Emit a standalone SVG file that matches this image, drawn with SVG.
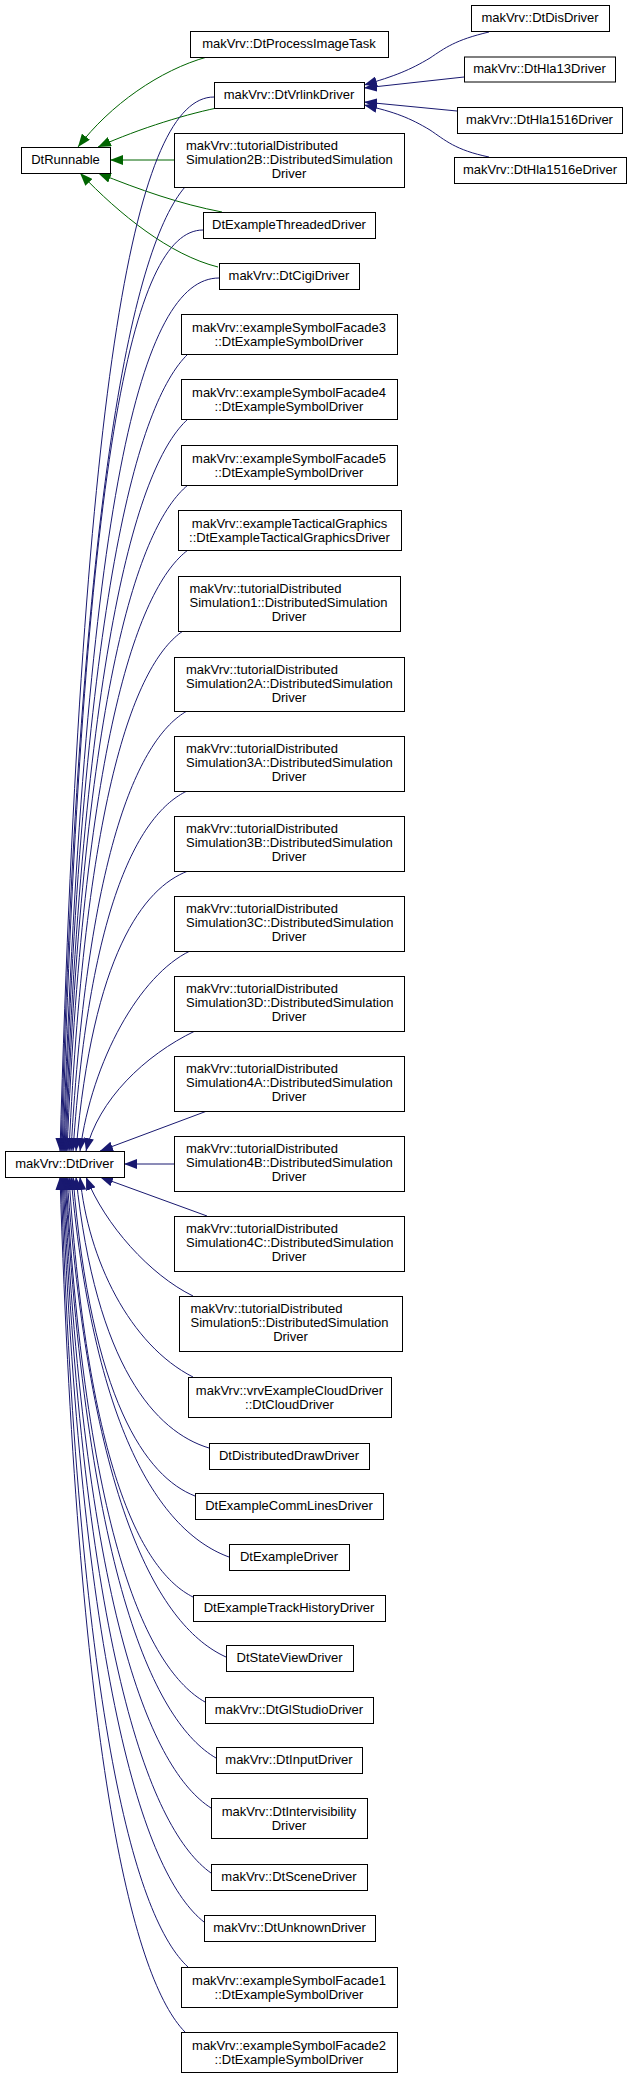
<svg xmlns="http://www.w3.org/2000/svg" width="632" height="2077" viewBox="0 0 632 2077">
<style>
.n rect{fill:#fff;stroke:#000;stroke-width:1}
.n text{font-family:"Liberation Sans",Arial,sans-serif;font-size:13px;fill:#000;text-anchor:middle}
.n text.l{text-anchor:start}
.g{fill:none;stroke:#006400;stroke-width:1;marker-end:url(#ag)}
.b{fill:none;stroke:#191970;stroke-width:1;marker-end:url(#ab)}
</style>
<defs>
<marker id="ag" viewBox="0 0 13 10" refX="13" refY="5" markerWidth="13" markerHeight="10" markerUnits="userSpaceOnUse" orient="auto"><path d="M0,0L13,5L0,10z" fill="#006400"/></marker>
<marker id="ab" viewBox="0 0 13 10" refX="13" refY="5" markerWidth="13" markerHeight="10" markerUnits="userSpaceOnUse" orient="auto"><path d="M0,0L13,5L0,10z" fill="#191970"/></marker>
</defs>
<rect width="632" height="2077" fill="#fff"/>
<g id="edges">
<path class="g" d="M207,57 C160,70 110,105 78,147"/>
<path class="g" d="M222,107 C190,113 140,128 98,147"/>
<path class="g" d="M174,160 L110,160"/>
<path class="g" d="M222,212 C180,204 140,190 98,173"/>
<path class="g" d="M218,267 C170,255 120,215 80,173"/>
<path class="b" d="M489,32 C455,40 445,48 430,58 C410,70 395,76 364,85"/>
<path class="b" d="M464,77 L364,88"/>
<path class="b" d="M457,111 L364,102"/>
<path class="b" d="M489,157 C455,150 445,140 430,130 C410,118 395,112 364,105"/>
<path class="b" d="M214,97 C137,97 83,360 60,1151"/>
<path class="b" d="M185,187 C135,245 80,476 61,1151"/>
<path class="b" d="M203,230 C132,230 83,460 62,1151"/>
<path class="b" d="M219,278 C141,278 86,496 63,1151"/>
<path class="b" d="M188,354 C138,402 83,593 64,1151"/>
<path class="b" d="M188,419 C139,463 84,639 65,1151"/>
<path class="b" d="M188,485 C139,525 84,685 66,1151"/>
<path class="b" d="M188,550 C140,586 85,730 67,1151"/>
<path class="b" d="M183,631 C137,662 86,787 69,1151"/>
<path class="b" d="M187,711 C141,737 88,843 71,1151"/>
<path class="b" d="M187,791 C141,813 90,899 73,1151"/>
<path class="b" d="M188,871 C143,888 93,955 76,1151"/>
<path class="b" d="M190,951 C140,975 92,1060 80,1151"/>
<path class="b" d="M195,1031 C145,1055 98,1100 86,1151"/>
<path class="b" d="M207,1111 L100,1151"/>
<path class="b" d="M174,1164 L124,1164"/>
<path class="b" d="M207,1216 L100,1177"/>
<path class="b" d="M193,1296 C150,1275 105,1225 86,1177"/>
<path class="b" d="M193,1377 C130,1345 88,1260 80,1177"/>
<path class="b" d="M209,1448 C156,1432 96,1367 76,1177"/>
<path class="b" d="M195,1496 C146,1477 91,1400 73,1177"/>
<path class="b" d="M229,1557 C166,1534 95,1443 71,1177"/>
<path class="b" d="M193,1597 C143,1572 88,1471 69,1177"/>
<path class="b" d="M226,1657 C162,1628 91,1513 67,1177"/>
<path class="b" d="M205,1702 C149,1670 87,1544 66,1177"/>
<path class="b" d="M216,1758 C156,1723 88,1584 65,1177"/>
<path class="b" d="M211,1808 C152,1770 86,1619 64,1177"/>
<path class="b" d="M211,1873 C152,1831 85,1664 63,1177"/>
<path class="b" d="M204,1922 C147,1877 83,1698 62,1177"/>
<path class="b" d="M188,1967 C137,1920 80,1730 61,1177"/>
<path class="b" d="M185,2032 C135,1981 79,1775 60,1177"/>
</g>
<g id="DtRunnable" class="n"><rect x="21.5" y="147.5" width="89" height="26"/><text x="65.5" y="163.5">DtRunnable</text></g>
<g id="DtDriver" class="n"><rect x="5.5" y="1151.5" width="119" height="26"/><text x="64.5" y="1167.5">makVrv::DtDriver</text></g>
<g id="DtProcessImageTask" class="n"><rect x="190.5" y="31.5" width="198" height="26"/><text x="289" y="47.5">makVrv::DtProcessImageTask</text></g>
<g id="DtVrlinkDriver" class="n"><rect x="214.5" y="82.5" width="150" height="26"/><text x="289" y="98.5">makVrv::DtVrlinkDriver</text></g>
<g id="DtDisDriver" class="n"><rect x="471.5" y="5.5" width="138" height="26"/><text x="540" y="21.5">makVrv::DtDisDriver</text></g>
<g id="DtHla13Driver" class="n"><rect x="464.5" y="57" width="151" height="25"/><text x="539.5" y="73">makVrv::DtHla13Driver</text></g>
<g id="DtHla1516Driver" class="n"><rect x="457.5" y="107.5" width="165" height="26"/><text x="539.5" y="123.5">makVrv::DtHla1516Driver</text></g>
<g id="DtHla1516eDriver" class="n"><rect x="454.5" y="157.5" width="172" height="26"/><text x="540" y="173.5">makVrv::DtHla1516eDriver</text></g>
<g id="Tut2B" class="n"><rect x="174.5" y="133.5" width="230" height="54"/><text class="l" x="186" y="150">makVrv::tutorialDistributed</text><text class="l" x="186" y="164">Simulation2B::DistributedSimulation</text><text x="289" y="178">Driver</text></g>
<g id="DtExampleThreadedDriver" class="n"><rect x="203.5" y="212.5" width="172" height="26"/><text x="289" y="228.5">DtExampleThreadedDriver</text></g>
<g id="DtCigiDriver" class="n"><rect x="219.5" y="263.5" width="140" height="26"/><text x="289" y="279.5">makVrv::DtCigiDriver</text></g>
<g id="Facade3" class="n"><rect x="181.5" y="314.5" width="216" height="40"/><text x="289" y="331.5">makVrv::exampleSymbolFacade3</text><text x="289" y="345.5">::DtExampleSymbolDriver</text></g>
<g id="Facade4" class="n"><rect x="181.5" y="379.5" width="216" height="40"/><text x="289" y="396.5">makVrv::exampleSymbolFacade4</text><text x="289" y="410.5">::DtExampleSymbolDriver</text></g>
<g id="Facade5" class="n"><rect x="181.5" y="445.5" width="216" height="40"/><text x="289" y="462.5">makVrv::exampleSymbolFacade5</text><text x="289" y="476.5">::DtExampleSymbolDriver</text></g>
<g id="Tactical" class="n"><rect x="178.5" y="510.5" width="223" height="40"/><text x="289.5" y="527.5">makVrv::exampleTacticalGraphics</text><text x="289.5" y="541.5">::DtExampleTacticalGraphicsDriver</text></g>
<g id="Tut1" class="n"><rect x="178.5" y="576.5" width="222" height="55"/><text class="l" x="189.5" y="593">makVrv::tutorialDistributed</text><text class="l" x="189.5" y="607">Simulation1::DistributedSimulation</text><text x="289" y="621">Driver</text></g>
<g id="Tut2A" class="n"><rect x="174.5" y="657.5" width="230" height="54"/><text class="l" x="186" y="674">makVrv::tutorialDistributed</text><text class="l" x="186" y="688">Simulation2A::DistributedSimulation</text><text x="289" y="702">Driver</text></g>
<g id="Tut3A" class="n"><rect x="174.5" y="736.5" width="230" height="55"/><text class="l" x="186" y="753">makVrv::tutorialDistributed</text><text class="l" x="186" y="767">Simulation3A::DistributedSimulation</text><text x="289" y="781">Driver</text></g>
<g id="Tut3B" class="n"><rect x="174.5" y="816.5" width="230" height="55"/><text class="l" x="186" y="833">makVrv::tutorialDistributed</text><text class="l" x="186" y="847">Simulation3B::DistributedSimulation</text><text x="289" y="861">Driver</text></g>
<g id="Tut3C" class="n"><rect x="174.5" y="896.5" width="230" height="55"/><text class="l" x="186" y="913">makVrv::tutorialDistributed</text><text class="l" x="186" y="927">Simulation3C::DistributedSimulation</text><text x="289" y="941">Driver</text></g>
<g id="Tut3D" class="n"><rect x="174.5" y="976.5" width="230" height="55"/><text class="l" x="186" y="993">makVrv::tutorialDistributed</text><text class="l" x="186" y="1007">Simulation3D::DistributedSimulation</text><text x="289" y="1021">Driver</text></g>
<g id="Tut4A" class="n"><rect x="174.5" y="1056.5" width="230" height="55"/><text class="l" x="186" y="1073">makVrv::tutorialDistributed</text><text class="l" x="186" y="1087">Simulation4A::DistributedSimulation</text><text x="289" y="1101">Driver</text></g>
<g id="Tut4B" class="n"><rect x="174.5" y="1136.5" width="230" height="55"/><text class="l" x="186" y="1153">makVrv::tutorialDistributed</text><text class="l" x="186" y="1167">Simulation4B::DistributedSimulation</text><text x="289" y="1181">Driver</text></g>
<g id="Tut4C" class="n"><rect x="174.5" y="1216.5" width="230" height="55"/><text class="l" x="186" y="1233">makVrv::tutorialDistributed</text><text class="l" x="186" y="1247">Simulation4C::DistributedSimulation</text><text x="289" y="1261">Driver</text></g>
<g id="Tut5" class="n"><rect x="179.5" y="1296.5" width="223" height="55"/><text class="l" x="190.5" y="1313">makVrv::tutorialDistributed</text><text class="l" x="190.5" y="1327">Simulation5::DistributedSimulation</text><text x="290.5" y="1341">Driver</text></g>
<g id="DtCloudDriver" class="n"><rect x="188.5" y="1377.5" width="203" height="40"/><text x="289.5" y="1394.5">makVrv::vrvExampleCloudDriver</text><text x="289.5" y="1408.5">::DtCloudDriver</text></g>
<g id="DtDistributedDrawDriver" class="n"><rect x="209.5" y="1443.5" width="160" height="26"/><text x="289" y="1459.5">DtDistributedDrawDriver</text></g>
<g id="DtExampleCommLinesDriver" class="n"><rect x="195.5" y="1493.5" width="188" height="26"/><text x="289" y="1509.5">DtExampleCommLinesDriver</text></g>
<g id="DtExampleDriver" class="n"><rect x="229.5" y="1544.5" width="120" height="26"/><text x="289" y="1560.5">DtExampleDriver</text></g>
<g id="DtExampleTrackHistoryDriver" class="n"><rect x="193.5" y="1595.5" width="192" height="26"/><text x="289" y="1611.5">DtExampleTrackHistoryDriver</text></g>
<g id="DtStateViewDriver" class="n"><rect x="226.5" y="1645.5" width="127" height="26"/><text x="289.5" y="1661.5">DtStateViewDriver</text></g>
<g id="DtGlStudioDriver" class="n"><rect x="205.5" y="1697.5" width="168" height="26"/><text x="289" y="1713.5">makVrv::DtGlStudioDriver</text></g>
<g id="DtInputDriver" class="n"><rect x="216.5" y="1747.5" width="146" height="26"/><text x="289" y="1763.5">makVrv::DtInputDriver</text></g>
<g id="DtIntervisibilityDriver" class="n"><rect x="211.5" y="1798.5" width="156" height="40"/><text x="289" y="1815.5">makVrv::DtIntervisibility</text><text x="289" y="1829.5">Driver</text></g>
<g id="DtSceneDriver" class="n"><rect x="211.5" y="1864.5" width="156" height="26"/><text x="289" y="1880.5">makVrv::DtSceneDriver</text></g>
<g id="DtUnknownDriver" class="n"><rect x="204.5" y="1915.5" width="171" height="26"/><text x="289.5" y="1931.5">makVrv::DtUnknownDriver</text></g>
<g id="Facade1" class="n"><rect x="181.5" y="1967.5" width="216" height="40"/><text x="289" y="1984.5">makVrv::exampleSymbolFacade1</text><text x="289" y="1998.5">::DtExampleSymbolDriver</text></g>
<g id="Facade2" class="n"><rect x="181.5" y="2032.5" width="216" height="40"/><text x="289" y="2049.5">makVrv::exampleSymbolFacade2</text><text x="289" y="2063.5">::DtExampleSymbolDriver</text></g>
</svg>
